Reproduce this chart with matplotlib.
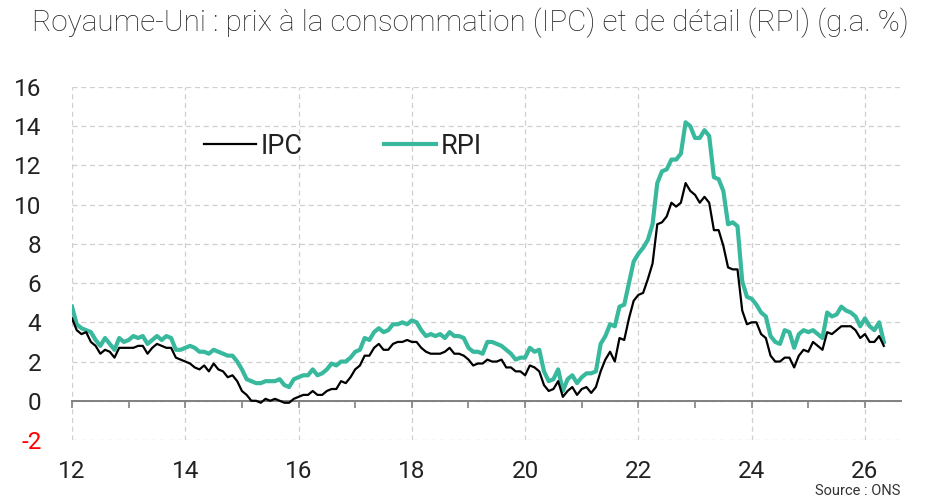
import numpy as np
import matplotlib
matplotlib.use("Agg")
import matplotlib.pyplot as plt
from matplotlib.ticker import MultipleLocator

plt.rcParams['font.family'] = ['Roboto', 'DejaVu Sans']
plt.rcParams['axes.unicode_minus'] = False

# glissement annuel mensuel, déc. 2011 -> avr. 2026
ipc = [4.2,
       3.6, 3.4, 3.5, 3.0, 2.8, 2.4, 2.6, 2.5, 2.2, 2.7, 2.7, 2.7,
       2.7, 2.8, 2.8, 2.4, 2.7, 2.9, 2.8, 2.7, 2.7, 2.2, 2.1, 2.0,
       1.9, 1.7, 1.6, 1.8, 1.5, 1.9, 1.6, 1.5, 1.2, 1.3, 1.0, 0.5,
       0.3, 0.0, 0.0, -0.1, 0.1, 0.0, 0.1, 0.0, -0.1, -0.1, 0.1, 0.2,
       0.3, 0.3, 0.5, 0.3, 0.3, 0.5, 0.6, 0.6, 1.0, 0.9, 1.2, 1.6,
       1.8, 2.3, 2.3, 2.7, 2.9, 2.6, 2.6, 2.9, 3.0, 3.0, 3.1, 3.0,
       3.0, 2.7, 2.5, 2.4, 2.4, 2.4, 2.5, 2.7, 2.4, 2.4, 2.3, 2.1,
       1.8, 1.9, 1.9, 2.1, 2.0, 2.0, 2.1, 1.7, 1.7, 1.5, 1.5, 1.3,
       1.8, 1.7, 1.5, 0.8, 0.5, 0.6, 1.0, 0.2, 0.5, 0.7, 0.3, 0.6,
       0.7, 0.4, 0.7, 1.5, 2.1, 2.5, 2.0, 3.2, 3.1, 4.2, 5.1, 5.4,
       5.5, 6.2, 7.0, 9.0, 9.1, 9.4, 10.1, 9.9, 10.1, 11.1, 10.7, 10.5,
       10.1, 10.4, 10.1, 8.7, 8.7, 7.9, 6.8, 6.7, 6.7, 4.6, 3.9, 4.0,
       4.0, 3.4, 3.2, 2.3, 2.0, 2.0, 2.2, 2.2, 1.7, 2.3, 2.6, 2.5,
       3.0, 2.8, 2.6, 3.5, 3.4, 3.6, 3.8, 3.8, 3.8, 3.6, 3.2, 3.4,
       3.0, 3.0, 3.3, 2.8]

rpi = [4.8,
       3.9, 3.7, 3.6, 3.5, 3.1, 2.8, 3.2, 2.9, 2.6, 3.2, 3.0, 3.1,
       3.3, 3.2, 3.3, 2.9, 3.1, 3.3, 3.1, 3.3, 3.2, 2.6, 2.6, 2.7,
       2.8, 2.7, 2.5, 2.5, 2.4, 2.6, 2.5, 2.4, 2.3, 2.3, 2.0, 1.6,
       1.1, 1.0, 0.9, 0.9, 1.0, 1.0, 1.0, 1.1, 0.8, 0.7, 1.1, 1.2,
       1.3, 1.3, 1.6, 1.3, 1.4, 1.6, 1.9, 1.8, 2.0, 2.0, 2.2, 2.5,
       2.6, 3.2, 3.1, 3.5, 3.7, 3.5, 3.6, 3.9, 3.9, 4.0, 3.9, 4.1,
       4.0, 3.6, 3.3, 3.4, 3.3, 3.4, 3.2, 3.5, 3.3, 3.3, 3.2, 2.7,
       2.5, 2.5, 2.4, 3.0, 3.0, 2.9, 2.8, 2.6, 2.4, 2.1, 2.2, 2.2,
       2.7, 2.5, 2.6, 1.5, 1.0, 1.1, 1.6, 0.5, 1.1, 1.3, 0.9, 1.2,
       1.4, 1.4, 1.5, 2.9, 3.3, 3.9, 3.8, 4.8, 4.9, 6.0, 7.1, 7.5,
       7.8, 8.2, 9.0, 11.1, 11.7, 11.8, 12.3, 12.3, 12.6, 14.2, 14.0, 13.4,
       13.4, 13.8, 13.5, 11.4, 11.3, 10.7, 9.0, 9.1, 8.9, 6.1, 5.3, 5.2,
       4.9, 4.5, 4.3, 3.3, 3.0, 2.9, 3.6, 3.5, 2.7, 3.4, 3.6, 3.5,
       3.6, 3.4, 3.2, 4.5, 4.3, 4.4, 4.8, 4.6, 4.5, 4.3, 3.8, 4.2,
       3.8, 3.6, 4.0, 3.0]

# dates en fin de mois (déc. 2011 = 2012.0)
t = 2012 + np.arange(len(ipc)) / 12

fig = plt.figure(figsize=(9.28, 5.0), dpi=100)
ax = fig.add_axes([0.0776, 0.12, 0.9705 - 0.0776, 0.706])

ax.plot(t, ipc, color='black', lw=1.6, label='IPC', zorder=4)
ax.plot(t, rpi, color='#38b99d', lw=3.0, label='RPI', zorder=3)

ax.set_xlim(2012, 2026.63)
ax.set_ylim(-2, 16)

for s in ['top', 'right', 'left']:
    ax.spines[s].set_visible(False)
ax.spines['bottom'].set_position(('data', 0))
ax.spines['bottom'].set_color('#808080')
ax.spines['bottom'].set_linewidth(1.4)

ax.xaxis.set_minor_locator(MultipleLocator(1))
ax.set_xticks(range(2012, 2027, 2))
ax.set_xticklabels([str(y)[2:] for y in range(2012, 2027, 2)])
ax.tick_params(axis='x', which='both', direction='out', length=5, width=1.2,
               color='#808080', labelsize=17.5, pad=38, labelcolor='#222222')
ax.set_yticks(range(-2, 17, 2))
ax.tick_params(axis='y', length=0, labelsize=17.5, pad=22, labelcolor='#222222')
ax.get_yticklabels()[0].set_color('red')

ax.grid(True, which='major', color='#cfcfcf', linestyle=(0, (4, 3)), lw=0.9)
ax.set_axisbelow(True)

leg = ax.legend(loc='upper left', bbox_to_anchor=(0.13, 0.94), ncol=2, frameon=False,
                fontsize=19.5, handlelength=1.9, handletextpad=0.2, columnspacing=3.0)
for txt in leg.get_texts():
    txt.set_color('#222222')

fig.text(0.035, 0.955, "Royaume-Uni : prix à la consommation (IPC) et de détail (RPI) (g.a. %)",
         fontsize=21.3, fontweight='light', ha='left', va='center', color='#222222')
fig.text(0.97, 0.018, "Source : ONS", fontsize=10.5, ha='right', va='center', color='#333333')

fig.savefig('out.png', dpi=100)
